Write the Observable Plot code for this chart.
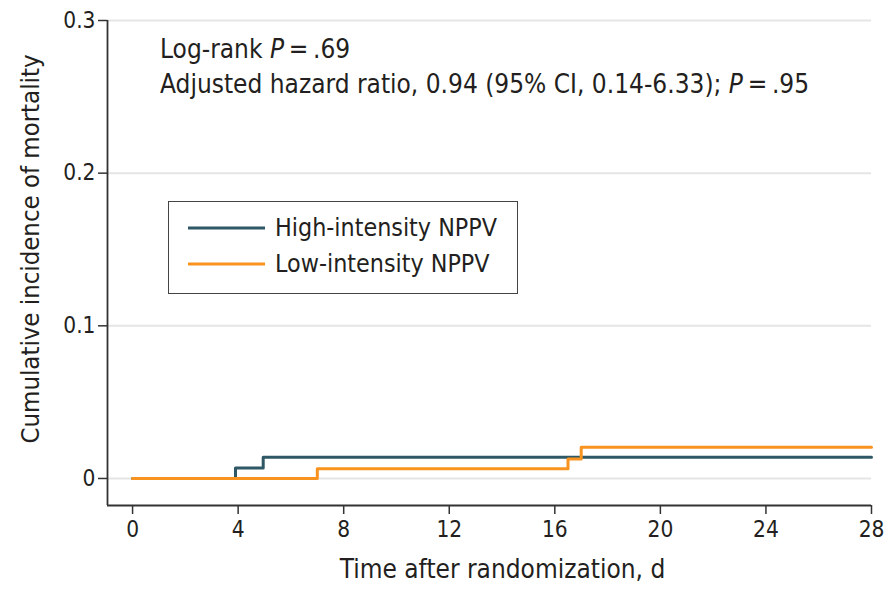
<!DOCTYPE html>
<html>
<head>
<meta charset="utf-8">
<script src="https://cdn.jsdelivr.net/npm/d3@7"></script>
<script src="https://cdn.jsdelivr.net/npm/@observablehq/plot@0.6"></script>
<style>
  html, body { margin: 0; padding: 0; background: #fff; }
  #wrap { position: relative; width: 889px; height: 589px; font-family: "DejaVu Sans Condensed", "Liberation Sans Narrow", sans-serif; color: #231f20; }
  #note { position: absolute; left: 160px; top: 32px; font-size: 26px; line-height: 35px; white-space: nowrap; }
  #legend { position: absolute; left: 168px; top: 201px; width: 350px; height: 93px; border: 1.5px solid #444; box-sizing: border-box; font-size: 24.8px; }
  .lg { position: absolute; left: 19px; height: 30px; display: flex; align-items: center; white-space: nowrap; }
  .lg svg { margin-right: 10px; }
</style>
</head>
<body>
<div id="wrap"></div>
<script>
const seriesNames = ["High-intensity NPPV", "Low-intensity NPPV"];
const seriesColors = ["#2e5865", "#f7931e"];
const highTimes = [0, 3.9, 4.95, 28];
const highValues = [0, 0.0069, 0.0139, 0.0139];
const lowTimes = [0, 7, 16.5, 17, 28];
const lowValues = [0, 0.0063, 0.0128, 0.0205, 0.0205];
const xTicks = [0, 4, 8, 12, 16, 20, 24, 28];
const yTicks = [0, 0.1, 0.2, 0.3];
const yTickLabels = ["0", "0.1", "0.2", "0.3"];
const xLabel = "Time after randomization, d";
const yLabel = "Cumulative incidence of mortality";

const xMin = -0.95, xMax = 28, yMin = -0.0177, yMax = 0.3;

const data = [
  ...highTimes.map((t, i) => ({series: seriesNames[0], t, v: highValues[i]})),
  ...lowTimes.map((t, i) => ({series: seriesNames[1], t, v: lowValues[i]}))
];

const font = '"DejaVu Sans Condensed", "Liberation Sans Narrow", sans-serif';
const chart = Plot.plot({
  width: 889,
  height: 589,
  marginLeft: 107,
  marginRight: 18,
  marginTop: 20,
  marginBottom: 84,
  style: {fontFamily: font, fontSize: "22px", color: "#231f20", background: "white"},
  x: {domain: [xMin, xMax], ticks: xTicks, label: null},
  y: {domain: [yMin, yMax], ticks: yTicks, label: null},
  color: {domain: seriesNames, range: seriesColors},
  marks: [
    Plot.ruleY(yTicks, {x1: xMin, x2: xMax, stroke: "#e5e5e5", strokeWidth: 2}),
    Plot.axisX({ticks: xTicks, tickSize: 9, tickPadding: 7, fontSize: 22.5, stroke: "#333", strokeWidth: 1.5}),
    Plot.axisY({ticks: yTicks, tickSize: 9, tickPadding: 3, tickFormat: (d, i) => yTickLabels[i], fontSize: 22.5, stroke: "#333", strokeWidth: 1.5}),
    Plot.ruleX([xMin], {y1: yMin, y2: yMax, stroke: "#333", strokeWidth: 1.8}),
    Plot.ruleY([yMin], {x1: xMin, x2: xMax, stroke: "#333", strokeWidth: 1.8}),
    Plot.line(data, {x: "t", y: "v", z: "series", stroke: "series", curve: "step-after", strokeWidth: 3}),
    Plot.text([xLabel], {frameAnchor: "bottom", dx: 13, dy: 72, fontSize: 26, fill: "#231f20"}),
    Plot.text([yLabel], {frameAnchor: "left", textAnchor: "middle", dx: -77, dy: -14, rotate: -90, fontSize: 25.5, fill: "#231f20"})
  ]
});

const wrap = document.getElementById("wrap");
wrap.appendChild(chart);

const note = document.createElement("div");
note.id = "note";
note.innerHTML = 'Log-rank <i>P</i>&#8201;=&#8201;.69<br>Adjusted hazard ratio, 0.94 (95% CI, 0.14-6.33); <i>P</i>&#8201;=&#8201;.95';
wrap.appendChild(note);

const legend = document.createElement("div");
legend.id = "legend";
seriesNames.forEach((name, i) => {
  const row = document.createElement("div");
  row.className = "lg";
  row.style.top = (i === 0 ? 10.5 : 46.5) + "px";
  row.innerHTML = `<svg width="77" height="4"><line x1="0" x2="77" y1="2" y2="2" stroke="${seriesColors[i]}" stroke-width="3"/></svg><span>${name}</span>`;
  legend.appendChild(row);
});
wrap.appendChild(legend);
</script>
</body>
</html>
